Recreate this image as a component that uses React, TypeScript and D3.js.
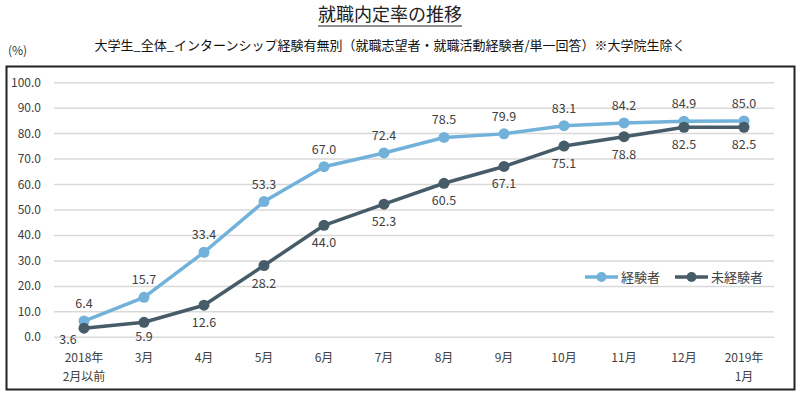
import React from 'react';
import * as d3 from 'd3';

const months = ['2018年\n2月以前', '3月', '4月', '5月', '6月', '7月', '8月', '9月', '10月', '11月', '12月', '2019年\n1月'];
const experienced = [6.4, 15.7, 33.4, 53.3, 67.0, 72.4, 78.5, 79.9, 83.1, 84.2, 84.9, 85.0];
const inexperienced = [3.6, 5.9, 12.6, 28.2, 44.0, 52.3, 60.5, 67.1, 75.1, 78.8, 82.5, 82.5];
const yTicks = [0, 10, 20, 30, 40, 50, 60, 70, 80, 90, 100];
const seriesNames = ['経験者', '未経験者'];

const font = '"Noto Sans CJK JP", "Noto Sans", sans-serif';
const lightBlue = '#72B2DA';
const darkSlate = '#475C69';
const textColor = '#404040';

const App = () => {
  const width = 800;
  const height = 394;

  const x = d3.scalePoint<string>().domain(months).range([84, 744]);
  const y = d3.scaleLinear().domain([0, 100]).range([337.3, 82.7]);

  const line = d3.line<number>()
    .x((d, i) => x(months[i]) as number)
    .y(d => y(d));

  const series = [
    { name: seriesNames[0], data: experienced, color: lightBlue, above: true },
    { name: seriesNames[1], data: inexperienced, color: darkSlate, above: false },
  ];

  return (
    <svg width={width} height={height} style={{ position: 'absolute', left: 0, top: 0, fontFamily: font }}>
      <rect x={0} y={0} width={width} height={height} fill="#fff" />
      {/* title */}
      <text x={390} y={21} textAnchor="middle" fontSize={18} fill="#222">就職内定率の推移</text>
      <line x1={318} x2={462} y1={26} y2={26} stroke="#222" strokeWidth={1} />
      <text x={390} y={50} textAnchor="middle" fontSize={13} fill="#111">大学生_全体_インターンシップ経験有無別（就職志望者・就職活動経験者/単一回答）※大学院生除く</text>
      <text x={8} y={55} fontSize={12} fill="#333">(%)</text>

      {/* frame */}
      <rect x={6.5} y={66.5} width={788} height={323} fill="none" stroke="#222" strokeWidth={2} />

      {/* grid + y axis */}
      {yTicks.map(t => (
        <g key={t}>
          <line x1={54} x2={774} y1={y(t)} y2={y(t)} stroke="#d9d9d9" strokeWidth={1.5} />
          <text x={41} y={y(t) + 4} textAnchor="end" fontSize={12} fill={textColor}>{t.toFixed(1)}</text>
        </g>
      ))}

      {/* x labels */}
      {months.map(m => (
        <text key={m} x={x(m)} y={362} textAnchor="middle" fontSize={12} fill={textColor}>
          {m.split('\n').map((s, i) => (
            <tspan key={i} x={x(m)} dy={i === 0 ? 0 : 19}>{s}</tspan>
          ))}
        </text>
      ))}

      {/* lines */}
      {series.map(s => (
        <g key={s.name}>
          <path d={line(s.data) || ''} fill="none" stroke={s.color} strokeWidth={3.5} strokeLinejoin="round" />
          {s.data.map((v, i) => (
            <circle key={i} cx={x(months[i])} cy={y(v)} r={5.5} fill={s.color} />
          ))}
        </g>
      ))}

      {/* data labels */}
      {series.map(s => s.data.map((v, i) => {
        let lx = x(months[i]) as number;
        let ly = s.above ? y(v) - 13 : y(v) + 22;
        if (!s.above && i === 0) { lx -= 16; ly = y(v) + 16; }
        if (!s.above && i === 1) { ly = y(v) + 19; }
        return (
          <text key={s.name + i} x={lx} y={ly} textAnchor="middle" fontSize={12.5} fill={textColor}>{v.toFixed(1)}</text>
        );
      }))}

      {/* legend */}
      {series.map((s, i) => {
        const lx0 = i === 0 ? 585 : 675;
        return (
          <g key={s.name}>
            <line x1={lx0} x2={lx0 + 33} y1={277} y2={277} stroke={s.color} strokeWidth={3.5} />
            <circle cx={lx0 + 16.5} cy={277} r={5} fill={s.color} />
            <text x={lx0 + 36} y={282} fontSize={13} fill={textColor}>{s.name}</text>
          </g>
        );
      })}
    </svg>
  );
};

export default App;
